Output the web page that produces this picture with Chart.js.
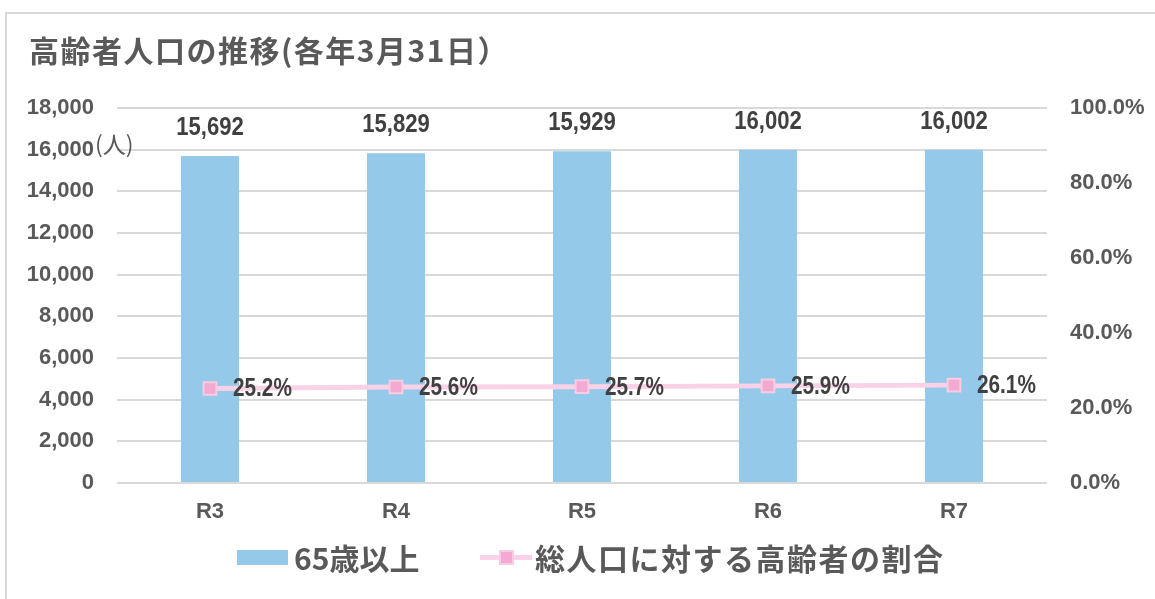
<!DOCTYPE html>
<html>
<head>
<meta charset="utf-8">
<script src="https://cdn.jsdelivr.net/npm/chart.js@4/dist/chart.umd.min.js"></script>
<style>
  html, body { margin:0; padding:0; width:1155px; height:599px; overflow:hidden; background:#fff; }
  #frame { position:absolute; left:5px; top:12px; width:1200px; height:700px; border:2px solid #d9d9d9; box-sizing:border-box; }
  #wrap { position:absolute; left:0; top:0; width:1155px; height:599px; }
  .txt { position:absolute; font-family:"Noto Sans CJK JP", sans-serif; color:#595959; white-space:nowrap; line-height:1; }
  #title { left:29px; top:34px; font-size:30px; font-weight:700; letter-spacing:1.5px; }
  #unit { left:95px; top:132px; font-size:23px; font-weight:400; }
  #leg1box { position:absolute; left:237px; top:550px; width:51px; height:15px; background:#94C9EA; }
  #leg1 { left:294px; top:542px; font-size:30px; font-weight:700; }
  #leg2line { position:absolute; left:480px; top:555px; width:52px; height:5px; background:#F9D2E7; }
  #leg2pt { position:absolute; left:499px; top:550px; width:11px; height:11px; background:#F2A9D2; border:2px solid #F9CCE3; }
  #leg2 { left:535px; top:542px; font-size:30px; font-weight:700; letter-spacing:1.5px; }
</style>
</head>
<body>
<div id="frame"></div>
<div id="wrap"><canvas id="c" width="1155" height="599"></canvas></div>
<div class="txt" id="title">高齢者人口の推移(各年3月31日）</div>
<div class="txt" id="unit">(人)</div>
<div id="leg1box"></div>
<div class="txt" id="leg1">65歳以上</div>
<div id="leg2line"></div>
<div id="leg2pt"></div>
<div class="txt" id="leg2">総人口に対する高齢者の割合</div>
<script>
const categories = ['R3', 'R4', 'R5', 'R6', 'R7'];
const population65 = [15692, 15829, 15929, 16002, 16002];
const elderlyRatio = [25.2, 25.6, 25.7, 25.9, 26.1];
const seriesNames = ['65歳以上', '総人口に対する高齢者の割合'];
const leftAxisMax = 18000;
const leftAxisStep = 2000;
const rightAxisMax = 100;
const rightAxisStep = 20;

const tickFont = { family: "'Liberation Sans', Arial, sans-serif", size: 22, weight: 'bold' };
const labelFamily = "'Liberation Sans', Arial, sans-serif";

function drawCondensed(ctx, text, x, y, sx) {
  ctx.save();
  ctx.translate(x, y);
  ctx.scale(sx, 1);
  ctx.fillText(text, 0, 0);
  ctx.restore();
}

const labelPlugin = {
  id: 'valueLabels',
  afterDatasetsDraw(chart) {
    const ctx = chart.ctx;
    ctx.save();
    ctx.fillStyle = '#404040';
    const barMeta = chart.getDatasetMeta(0);
    ctx.font = 'bold 26px ' + labelFamily;
    ctx.textAlign = 'center';
    ctx.textBaseline = 'alphabetic';
    barMeta.data.forEach((el, i) => {
      drawCondensed(ctx, population65[i].toLocaleString('en-US'), el.x, el.y - 21, 0.85);
    });
    const lineMeta = chart.getDatasetMeta(1);
    ctx.font = 'bold 25px ' + labelFamily;
    ctx.textAlign = 'left';
    ctx.textBaseline = 'middle';
    lineMeta.data.forEach((el, i) => {
      drawCondensed(ctx, elderlyRatio[i].toFixed(1) + '%', el.x + 23, el.y + 1, 0.83);
    });
    ctx.restore();
  }
};

new Chart(document.getElementById('c'), {
  data: {
    labels: categories,
    datasets: [
      {
        type: 'bar',
        label: seriesNames[0],
        data: population65,
        yAxisID: 'y',
        backgroundColor: '#94C9EA',
        categoryPercentage: 1,
        barPercentage: 0.312,
        order: 2
      },
      {
        type: 'line',
        label: seriesNames[1],
        data: elderlyRatio,
        yAxisID: 'y1',
        borderColor: '#F9D2E7',
        borderWidth: 5,
        pointStyle: 'rect',
        pointRadius: 9,
        pointBackgroundColor: '#F2A9D2',
        pointBorderColor: '#F9CCE3',
        pointBorderWidth: 2,
        tension: 0,
        order: 1
      }
    ]
  },
  options: {
    responsive: false,
    animation: false,
    layout: { padding: { top: 108, left: 0, right: 0, bottom: 0 } },
    plugins: { legend: { display: false }, tooltip: { enabled: false } },
    scales: {
      x: {
        grid: { display: false, drawTicks: false },
        border: { display: false },
        ticks: { font: tickFont, color: '#595959', padding: 16 },
        afterFit(scale) { scale.height = 116; }
      },
      y: {
        position: 'left',
        min: 0,
        max: leftAxisMax,
        grid: { color: '#D9D9D9', lineWidth: 2, drawTicks: false },
        border: { display: false },
        ticks: {
          stepSize: leftAxisStep,
          font: tickFont,
          color: '#595959',
          padding: 23,
          callback: v => v.toLocaleString('en-US')
        },
        afterFit(scale) { scale.width = 117; }
      },
      y1: {
        position: 'right',
        min: 0,
        max: rightAxisMax,
        grid: { drawOnChartArea: false, drawTicks: false },
        border: { display: false },
        ticks: {
          stepSize: rightAxisStep,
          font: tickFont,
          color: '#595959',
          padding: 23,
          callback: v => v.toFixed(1) + '%'
        },
        afterFit(scale) { scale.width = 108; }
      }
    }
  },
  plugins: [labelPlugin]
});
</script>
</body>
</html>
